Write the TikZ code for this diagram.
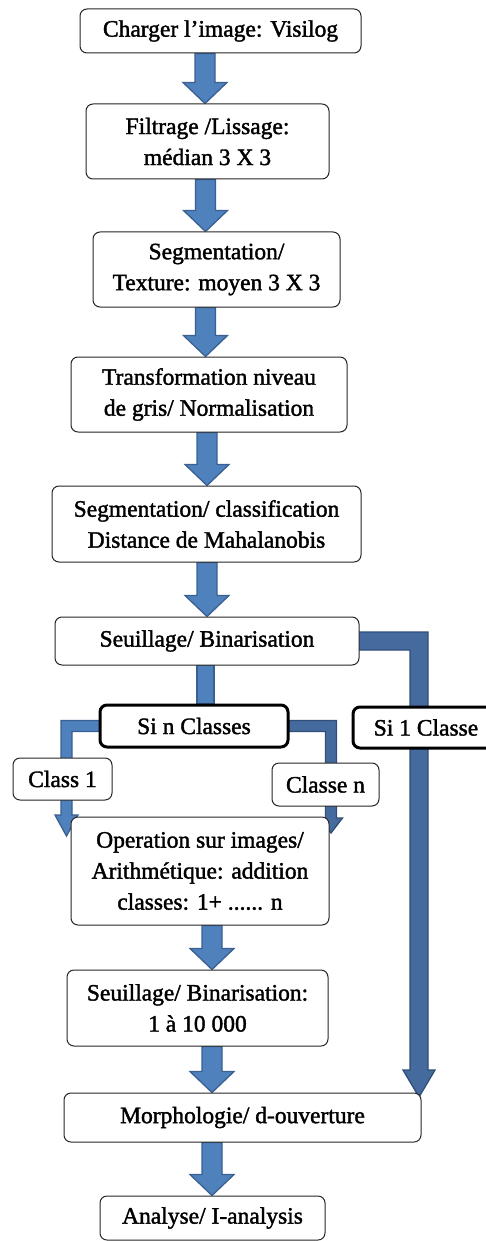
\documentclass[tikz,border=0pt]{standalone}
\usepackage{fontspec}
\setmainfont{Liberation Serif}
\newfontfamily\etapefont{Liberation Serif}[FakeBold=1.6]
\usetikzlibrary{calc,backgrounds}

\definecolor{bleu}{RGB}{79,129,189}
\definecolor{bleubord}{RGB}{58,96,145}
\definecolor{bleufonce}{RGB}{68,106,158}
\definecolor{bleufoncebord}{RGB}{48,78,120}

\tikzset{
	etape/.style={draw=black!85, line width=1pt, rounded corners=7pt, fill=white, align=center, inner sep=0pt, font=\etapefont\fontsize{23.5}{31}\selectfont},
	choix/.style={etape, draw=black, line width=3pt},
	fleche/.style={fill=bleu, draw=bleubord, line width=1.3pt},
	flechefonce/.style={fill=bleufonce, draw=bleufoncebord, line width=1.3pt},
}

% grosse fleche verticale entre deux etapes
\newcommand{\fleche}[3]{
	\draw [fleche] let \p1=(#1.south), \p2=(#2.north) in
		({#3pt-10pt},\y1) -- ({#3pt+10pt},\y1) -- ({#3pt+10pt},\y2+21pt) -- ({#3pt+22pt},\y2+21pt)
		-- (#3pt,\y2) -- ({#3pt-22pt},\y2+21pt) -- ({#3pt-10pt},\y2+21pt) -- cycle;
}
% fleche coudee: depart, pointe, demi-largeur, demi-tete, longueur tete, sens
\newcommand{\coude}[7][fleche]{
	\draw [#1] let \p1=(#2), \p2=(#3) in
		({\x1-(#7)*4pt},{\y1+#4}) -- ({\x2+(#7)*#4},{\y1+#4}) -- ({\x2+(#7)*#4},{\y2+#6})
		-- ({\x2+(#7)*#5},{\y2+#6}) -- (\p2) -- ({\x2-(#7)*#5},{\y2+#6}) -- ({\x2-(#7)*#4},{\y2+#6})
		-- ({\x2-(#7)*#4},{\y1-#4}) -- ({\x1-(#7)*4pt},{\y1-#4}) -- cycle;
}

\begin{document}
\begin{tikzpicture}[x=1pt, y=-1pt]
	\useasboundingbox (0, 0) rectangle (486, 1241);
	\node [etape, minimum width=281, minimum height=44] (charger) at (220.5, 31) {Charger l’image: Visilog};
	\node [etape, minimum width=243, minimum height=75] (filtrage) at (207.5, 141.5) {Filtrage /Lissage:\\médian 3 X 3};
	\node [etape, minimum width=247, minimum height=75] (texture) at (216.5, 269.5) {Segmentation/\\Texture: moyen 3 X 3};
	\node [etape, minimum width=276, minimum height=75] (transfo) at (209, 394.5) {Transformation niveau\\de gris/ Normalisation};
	\node [etape, minimum width=309, minimum height=76] (mahal) at (206.5, 524) {Segmentation/ classification\\Distance de Mahalanobis};
	\node [etape, minimum width=304, minimum height=48] (seuil) at (207, 641) {Seuillage/ Binarisation};
	\node [choix, minimum width=188, minimum height=42] (sin) at (194, 726) {Si n Classes};
	\node [choix, minimum width=146, minimum height=41] (si1) at (426, 727.5) {Si 1 Classe};
	\node [etape, minimum width=99, minimum height=42] (classe1) at (62.5, 779) {Class 1};
	\node [etape, minimum width=107, minimum height=43] (classen) at (325.5, 784.5) {Classe n};
	\node [etape, minimum width=258, minimum height=108] (oper) at (200, 871) {Operation sur images/\\Arithmétique: addition\\classes: 1+ ...... n};
	\node [etape, minimum width=261, minimum height=76] (seuil2) at (197.5, 1008) {Seuillage/ Binarisation:\\1 à 10 000};
	\node [etape, minimum width=357, minimum height=49] (morpho) at (242.5, 1117.5) {Morphologie/ d-ouverture};
	\node [etape, minimum width=225, minimum height=44] (analyse) at (212.5, 1218) {Analyse/ I-analysis};
	\coordinate (pointe1) at (66.5, 836);
	\coordinate (pointe2) at (331, 833);
	\coordinate (pointe3) at (419, 1097);
	\begin{scope}[on background layer]
		\fleche{charger}{filtrage}{205}
		\fleche{filtrage}{texture}{205.5}
		\fleche{texture}{transfo}{205.5}
		\fleche{transfo}{mahal}{207}
		\fleche{mahal}{seuil}{207}
		\draw [fleche] let \p1=(seuil.south), \p2=(sin.north) in (197pt, \y1) rectangle (214pt, \y2);
		\coude{sin.west}{pointe1}{5.5pt}{11.5pt}{21pt}{-1}
		\coude[flechefonce]{sin.east}{pointe2}{5.5pt}{11.5pt}{15pt}{1}
		\coude[flechefonce]{seuil.east}{pointe3}{9pt}{16pt}{27pt}{1}
		\fleche{oper}{seuil2}{212}
		\fleche{seuil2}{morpho}{212}
		\fleche{morpho}{analyse}{212}
	\end{scope}
\end{tikzpicture}
\end{document}
